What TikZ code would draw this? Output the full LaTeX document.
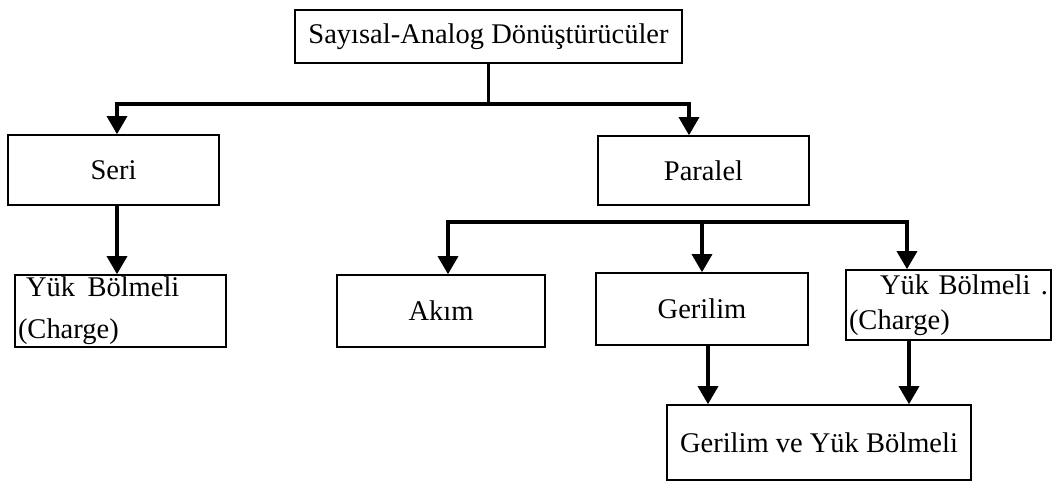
\documentclass[tikz,border=0pt]{standalone}
\usepackage{fontspec}
\setmainfont{Liberation Serif}
\usepackage{tikz}
\usetikzlibrary{arrows.meta}
\usetikzlibrary{positioning}
\usetikzlibrary{calc}
\tikzset{
  dacnode/.style = {draw=black, line width=1.6pt, inner sep=0pt,
    font=\fontsize{28.5}{34}\selectfont},% kutu
  dac_two/.style = {dacnode, align=left, inner xsep=3pt},% iki satirli kutu
  dac_link/.style = {line width=3.2pt},% duz cizgi
  dac_arrow/.style = {dac_link, -{Triangle[width=20pt,length=18pt]}}% okla biten cizgi
}

\begin{document}
\begin{tikzpicture}[x=1pt,y=-1pt]
\useasboundingbox (0,0) rectangle (1053,481);

\node [dacnode, minimum width=387pt, minimum height=53pt] (top) at (488.5,36.5) {Sayısal-Analog Dönüştürücüler};

\node [dacnode, minimum width=211pt, minimum height=70pt] (seri) at (113.5,170) {Seri};
\node [dacnode, minimum width=211pt, minimum height=69pt] (paralel) at (703.5,170.5) {Paralel};

\node [dac_two, text width=205pt, minimum height=72pt] (yuks) at (120.5,311)
  {\hspace*{8pt}Yük\hspace{3pt} Bölmeli\\[8pt](Charge)};
\node [dacnode, minimum width=208pt, minimum height=72pt] (akim) at (441,311) {Akım};
\node [dacnode, minimum width=212pt, minimum height=72pt] (gerilim) at (702,309) {Gerilim};
\node [dac_two, text width=199pt, minimum height=70pt] (yukp) at (948.5,305)
  {\hspace*{31pt}Yük Bölmeli\hfill.\hspace*{4pt}\\[1pt](Charge)};

\node [dacnode, minimum width=304pt, minimum height=75pt] (gyb) at (819,442.5) {Gerilim ve Yük Bölmeli};

% ust dallanma
\coordinate (lv1) at (0,104);
\draw [dac_link] (top.south) -- (top.south |- lv1);
\draw [dac_arrow] (top.south |- lv1) -| ([xshift=3.5pt]seri.north);
\draw [dac_arrow] (top.south |- lv1) -| ([xshift=-14.5pt]paralel.north);
\draw [dac_arrow] ([xshift=3.5pt]seri.south) -- ([xshift=3.5pt]seri.south |- yuks.north);

% paralel alt dallar
\coordinate (lv2) at (0,222);
\draw [dac_arrow] (gerilim.north |- lv2) -- (gerilim.north);
\draw [dac_arrow] (gerilim.north |- lv2) -| ([xshift=7pt]akim.north);
\draw [dac_arrow] (gerilim.north |- lv2) -| ([xshift=-41.5pt]yukp.north);

% en alt kutuya
\draw [dac_arrow] ([xshift=6pt]gerilim.south) -- ([xshift=6pt]gerilim.south |- gyb.north);
\draw [dac_arrow] ([xshift=-39.5pt]yukp.south) -- ([xshift=-39.5pt]yukp.south |- gyb.north);
\end{tikzpicture}
\end{document}
